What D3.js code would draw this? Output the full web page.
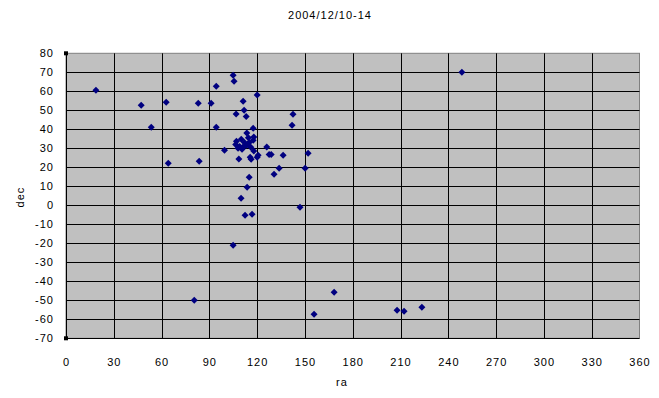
<!DOCTYPE html>
<html>
<head>
<meta charset="utf-8">
<script src="https://cdn.jsdelivr.net/npm/d3@7"></script>
<style>
  body { margin: 0; background: #fff; }
  svg text { font-family: "Liberation Sans", "DejaVu Sans", sans-serif; font-size: 11px; letter-spacing: 1px; fill: #000; }
</style>
</head>
<body>
<svg width="659" height="398"></svg>
<script>
"use strict";

const chartTitle = "2004/12/10-14";
const xLabel = "ra";
const yLabel = "dec";
const xTicks = [0, 30, 60, 90, 120, 150, 180, 210, 240, 270, 300, 330, 360];
const yTicks = [80, 70, 60, 50, 40, 30, 20, 10, 0, -10, -20, -30, -40, -50, -60, -70];

// right ascension / declination of each object
const ra = [18.8, 47.2, 53.5, 62.9, 64.2, 83.0, 83.6, 91.1, 94.3, 94.3,
            99.5, 104.9, 105.5, 106.8, 111.2, 111.8, 113.1, 120.0, 113.5, 117.9,
            117.5, 107.0, 110.0, 112.0, 114.0, 109.0, 111.0, 113.0, 115.0, 116.0,
            108.0, 106.5, 110.5, 117.5, 114.5, 117.9, 126.0, 127.5, 128.8, 108.5,
            115.6, 116.2, 120.0, 120.6, 133.8, 130.6, 115.0, 113.7, 109.9, 112.4,
            116.8, 142.5, 141.9, 152.0, 150.1, 136.3, 146.9, 104.9, 80.5, 168.3,
            155.7, 207.8, 212.2, 223.4, 248.5];
const dec = [60.5, 52.6, 41.1, 54.2, 22.1, 53.7, 23.2, 53.7, 62.6, 41.1,
             29.0, 68.4, 65.3, 48.1, 54.7, 50.0, 46.8, 58.1, 38.0, 35.9,
             40.5, 33.7, 34.7, 33.0, 32.0, 31.0, 30.5, 31.5, 33.0, 30.5,
             30.0, 32.0, 29.5, 34.2, 35.5, 28.6, 30.7, 26.8, 26.8, 24.4,
             25.3, 24.2, 25.3, 26.3, 19.5, 16.3, 14.7, 9.5, 3.7, -5.3,
             -4.7, 47.9, 42.1, 27.4, 19.5, 26.3, -1.0, -21.0, -50.0, -45.8,
             -57.4, -55.3, -55.8, -53.7, 70.0];

const plotLeft = 66, plotRight = 639.5, plotTop = 53.3, plotBottom = 338.3;

const svg = d3.select("svg");

const x = d3.scaleLinear().domain([0, 360]).range([plotLeft, plotRight]);
const y = d3.scaleLinear().domain([-70, 80]).range([plotBottom, plotTop]);

// plot area
svg.append("rect")
    .attr("x", plotLeft).attr("y", plotTop)
    .attr("width", plotRight - plotLeft).attr("height", plotBottom - plotTop)
    .attr("fill", "#c0c0c0")
    .attr("stroke", "#808080");

// grid
svg.append("g")
    .selectAll("line")
    .data(yTicks.slice(1, -1))
    .join("line")
    .attr("x1", plotLeft).attr("x2", plotRight)
    .attr("y1", d => Math.round(y(d)) + 0.5).attr("y2", d => Math.round(y(d)) + 0.5)
    .attr("stroke", "#000");
svg.append("g")
    .selectAll("line")
    .data(xTicks.slice(1, -1))
    .join("line")
    .attr("y1", plotTop).attr("y2", plotBottom)
    .attr("x1", d => Math.round(x(d)) + 0.5).attr("x2", d => Math.round(x(d)) + 0.5)
    .attr("stroke", "#000");

// axis lines
svg.append("line")
    .attr("x1", plotLeft).attr("x2", plotRight)
    .attr("y1", Math.round(plotBottom) + 0.5).attr("y2", Math.round(plotBottom) + 0.5)
    .attr("stroke", "#000");
svg.append("line")
    .attr("x1", plotLeft + 0.5).attr("x2", plotLeft + 0.5)
    .attr("y1", plotTop).attr("y2", plotBottom)
    .attr("stroke", "#000");

// selection handles at the y axis ends
svg.append("g")
    .selectAll("rect")
    .data([80, -70])
    .join("rect")
    .attr("x", plotLeft - 2).attr("y", d => y(d) - 2)
    .attr("width", 4).attr("height", 4)
    .attr("fill", "#000");

// tick labels
svg.append("g")
    .selectAll("text")
    .data(yTicks)
    .join("text")
    .attr("x", 54)
    .attr("y", d => y(d) + 4)
    .attr("text-anchor", "end")
    .text(d => d);
svg.append("g")
    .selectAll("text")
    .data(xTicks)
    .join("text")
    .attr("x", d => x(d) + 0.5)
    .attr("y", 366)
    .attr("text-anchor", "middle")
    .text(d => d);

// titles
svg.append("text")
    .attr("x", 330).attr("y", 19)
    .attr("text-anchor", "middle")
    .text(chartTitle);
svg.append("text")
    .attr("x", 342).attr("y", 386)
    .attr("text-anchor", "middle")
    .text(xLabel);
svg.append("text")
    .attr("transform", "translate(24,197) rotate(-90)")
    .attr("text-anchor", "middle")
    .text(yLabel);

// markers
const pts = ra.map((r, i) => [r, dec[i]]);
svg.append("g")
    .selectAll("path")
    .data(pts)
    .join("path")
    .attr("transform", d => `translate(${x(d[0])},${y(d[1])})`)
    .attr("d", "M0,-3.5L3.5,0L0,3.5L-3.5,0Z")
    .attr("fill", "#000080");
</script>
</body>
</html>
